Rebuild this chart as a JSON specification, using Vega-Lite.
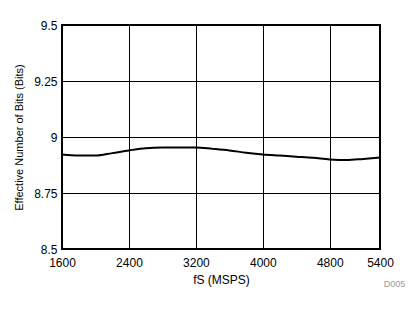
{
  "$schema": "https://vega.github.io/schema/vega-lite/v6.json",
  "width": 318,
  "height": 224,
  "autosize": "none",
  "padding": {"left": 62, "top": 25, "right": 38, "bottom": 63},
  "background": "white",
  "config": {
    "font": "Liberation Sans",
    "view": {"stroke": "black", "strokeWidth": 2},
    "axis": {
      "domain": false,
      "ticks": false,
      "grid": true,
      "gridColor": "black",
      "gridOpacity": 1,
      "gridWidth": 1,
      "labelFont": "Liberation Sans",
      "labelFontSize": 12,
      "labelColor": "black",
      "titleFont": "Liberation Sans",
      "titleFontWeight": "normal",
      "titleColor": "black"
    }
  },
  "title": {
    "text": "D005",
    "orient": "bottom",
    "anchor": "end",
    "fontSize": 9,
    "fontWeight": "normal",
    "color": "#999999",
    "font": "Liberation Sans",
    "offset": -5,
    "dx": 12
  },
  "data": {
    "values": [
      {"fs": 1600, "enob": 8.922},
      {"fs": 1800, "enob": 8.917},
      {"fs": 2000, "enob": 8.917},
      {"fs": 2200, "enob": 8.928},
      {"fs": 2400, "enob": 8.94},
      {"fs": 2600, "enob": 8.95},
      {"fs": 2800, "enob": 8.953},
      {"fs": 3000, "enob": 8.953},
      {"fs": 3200, "enob": 8.953},
      {"fs": 3400, "enob": 8.947},
      {"fs": 3600, "enob": 8.94},
      {"fs": 3800, "enob": 8.93},
      {"fs": 4000, "enob": 8.922},
      {"fs": 4200, "enob": 8.917},
      {"fs": 4400, "enob": 8.912},
      {"fs": 4600, "enob": 8.907},
      {"fs": 4800, "enob": 8.9},
      {"fs": 5000, "enob": 8.897},
      {"fs": 5200, "enob": 8.902},
      {"fs": 5400, "enob": 8.908}
    ]
  },
  "mark": {"type": "line", "color": "black", "strokeWidth": 2, "interpolate": "monotone"},
  "encoding": {
    "x": {
      "field": "fs",
      "type": "quantitative",
      "scale": {"domain": [1600, 5400], "nice": false, "zero": false},
      "axis": {
        "values": [1600, 2400, 3200, 4000, 4800, 5400],
        "format": "d",
        "title": "fS (MSPS)",
        "titleFontSize": 12,
        "labelPadding": 8,
        "titlePadding": 6,
        "labelOverlap": false,
        "labelFlush": false
      }
    },
    "y": {
      "field": "enob",
      "type": "quantitative",
      "scale": {"domain": [8.5, 9.5], "nice": false, "zero": false},
      "axis": {
        "values": [8.5, 8.75, 9, 9.25, 9.5],
        "labelExpr": "datum.value",
        "title": "Effective Number of Bits (Bits)",
        "titleFontSize": 11,
        "labelPadding": 5,
        "titlePadding": 9,
        "labelFlush": false
      }
    }
  }
}
